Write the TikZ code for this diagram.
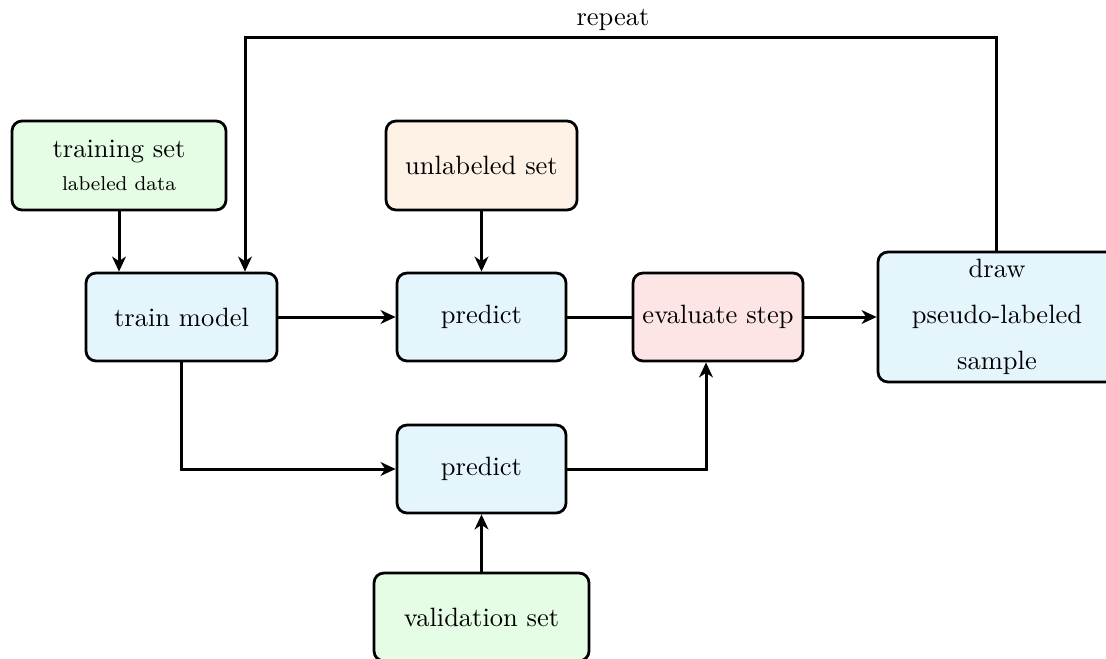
\documentclass[tikz,border=0pt]{standalone}
\usetikzlibrary{arrows.meta}
\definecolor{gfill}{RGB}{229,252,229}
\definecolor{bfill}{RGB}{228,245,252}
\definecolor{ofill}{RGB}{254,241,229}
\definecolor{rfill}{RGB}{253,229,230}
\newcommand{\boxfont}{\fontsize{10.6}{12.5}\selectfont}
\tikzset{
  box/.style={draw=black, line width=1.1pt, rounded corners=4pt, align=center,
    inner sep=2pt, font=\boxfont},
  link/.style={line width=1.2pt, draw=black},
  arr/.style={link, -{Stealth[length=6pt,width=5.5pt,inset=1.8pt]}},
}
\begin{document}
\begin{tikzpicture}[x=0.4pt,y=-0.4pt]
\useasboundingbox (0,0) rectangle (1106,659);
\clip (0,0) rectangle (1106,659);
% data sources
\node[box, fill=gfill, minimum width=85.6pt, minimum height=35.6pt] (train) at (119,165.5)
  {training set\\[1pt]{\footnotesize labeled data}};
\node[box, fill=ofill, minimum width=76.4pt, minimum height=35.6pt] (unlab) at (481.5,165.5) {unlabeled set};
\node[box, fill=gfill, minimum width=86pt, minimum height=35.2pt] (valid) at (481.5,617) {validation set};
% processing steps
\node[box, fill=bfill, minimum width=76.4pt, minimum height=35.2pt] (model) at (181.5,317) {train model};
\node[box, fill=bfill, minimum width=67.6pt, minimum height=35.2pt] (predU) at (481.5,317) {predict};
\node[box, fill=bfill, minimum width=67.6pt, minimum height=35.2pt] (predV) at (481.5,469) {predict};
\node[box, fill=rfill, minimum width=68pt, minimum height=35.2pt] (eval) at (718,317) {evaluate step};
\node[box, fill=bfill, minimum width=95.2pt, minimum height=52pt] (draw) at (997,317)
  {draw\\[6pt]pseudo-labeled\\[6pt]sample};
% connectors
\draw[arr] (train.south) -- (model.north -| train.south);
\draw[arr] (unlab) -- (predU);
\draw[arr] (model) -- (predU);
\draw[link] (predU) -- (eval);
\draw[arr] (eval) -- (draw);
\draw[arr] (valid) -- (predV);
\draw[arr] (model.south) |- (predV.west);
\coordinate (corner) at (706,469);
\draw[arr] (predV.east) -- (corner) -- (eval.south -| corner);
\coordinate (loopR) at (996,38);
\coordinate (loopL) at (245,38);
\draw[arr] (draw.north -| loopR) -- (loopR)
  -- node[above, inner sep=2.5pt, xshift=-3pt, font=\boxfont] {repeat} (loopL) -- (model.north -| loopL);
\end{tikzpicture}
\end{document}
